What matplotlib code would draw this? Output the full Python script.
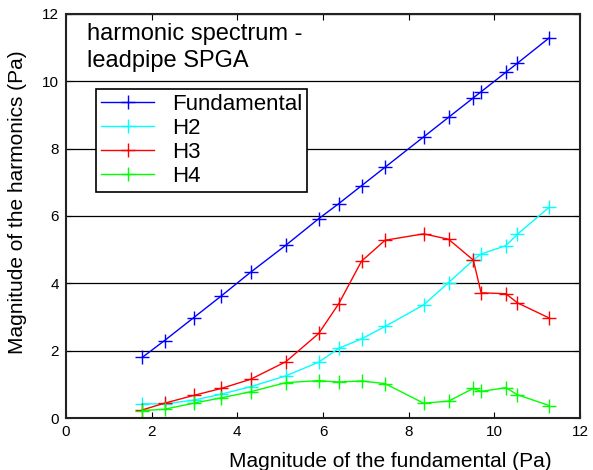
import matplotlib
matplotlib.use("Agg")
import matplotlib.pyplot as plt

plt.rcParams['font.family'] = ['Liberation Sans', 'DejaVu Sans']

fund_x = [1.78, 2.30, 2.98, 3.63, 4.31, 5.13, 5.90, 6.37, 6.90, 7.45, 8.35, 8.93, 9.51, 9.69, 10.27, 10.54, 11.28]
fundamental = [1.80, 2.30, 2.98, 3.63, 4.33, 5.13, 5.92, 6.37, 6.90, 7.45, 8.35, 8.93, 9.51, 9.69, 10.27, 10.54, 11.29]
h2 = [0.42, 0.42, 0.53, 0.71, 0.93, 1.25, 1.66, 2.07, 2.35, 2.72, 3.36, 4.02, 4.69, 4.87, 5.12, 5.46, 6.26]
h3 = [0.24, 0.44, 0.67, 0.88, 1.15, 1.67, 2.51, 3.40, 4.66, 5.28, 5.47, 5.31, 4.69, 3.72, 3.69, 3.42, 2.97]
h4 = [0.22, 0.26, 0.44, 0.60, 0.78, 1.05, 1.11, 1.07, 1.10, 1.02, 0.44, 0.50, 0.88, 0.79, 0.90, 0.69, 0.37]

series = [("Fundamental", fundamental, "#0000ff"),
          ("H2", h2, "#00ffff"),
          ("H3", h3, "#ff0000"),
          ("H4", h4, "#00ff00")]

fig = plt.figure(figsize=(5.93, 4.70), dpi=100)
ax = fig.add_axes([66/593, 1 - 418/470, (580-66)/593, (418-14)/470])

for name, ys, col in series:
    ax.plot(fund_x, ys, color=col, lw=1.0, marker='+', markersize=10, markeredgewidth=1.0, label=name)

ax.set_xlim(0, 12)
ax.set_ylim(0, 12)
ax.set_xticks(range(0, 13, 2))
ax.set_yticks(range(0, 13, 2))
ax.yaxis.grid(True, color='black', lw=0.9)
ax.set_axisbelow(True)
ax.tick_params(direction='in', top=True, right=True, labelsize=11, length=4, pad=5)
for s in ax.spines.values():
    s.set_linewidth(1.5)
    s.set_color('#222222')

ax.set_xlabel("Magnitude of the fundamental (Pa)", fontsize=15)
ax.xaxis.set_label_coords(0.63, -0.085)
ax.set_ylabel("Magnitude of the harmonics (Pa)", fontsize=15)
ax.yaxis.set_label_coords(-0.075, 0.535)

ax.text(0.49, 11.72, "harmonic spectrum -\nleadpipe SPGA", fontsize=17, va='top', ha='left',
        linespacing=1.25, bbox=dict(facecolor='white', edgecolor='none', pad=2))

leg = ax.legend(loc='upper left', bbox_to_anchor=(0.0584, 0.814), fontsize=16, frameon=True,
                fancybox=False, edgecolor='black', framealpha=1, borderpad=0.22,
                labelspacing=0.13, handlelength=2.4, handletextpad=0.8, borderaxespad=0)
leg.get_frame().set_linewidth(1.2)

fig.savefig("out.png", dpi=100)
